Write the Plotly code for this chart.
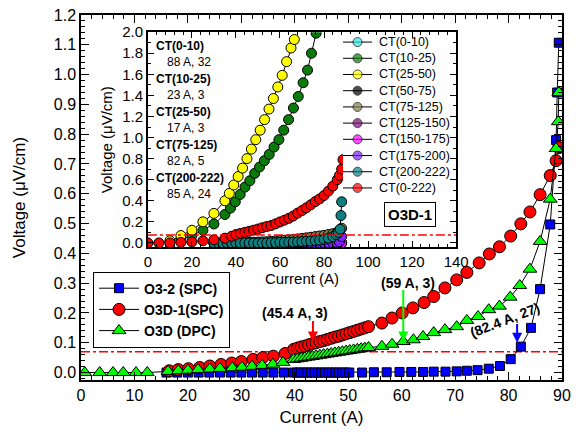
import plotly.graph_objects as go

FONT = "Arial, 'Liberation Sans', Helvetica, sans-serif"

# ---------------- main panel data ----------------
o32_A = [16, 18, 20, 22, 24, 26, 28, 30, 32, 34, 36, 38,
         39.8, 40.45, 41.1, 41.75, 42.4, 43.05, 43.7, 44.35, 45.0, 45.65, 46.3, 46.95,
         47.6, 48.25, 48.9, 49.55, 50.2,
         52.6, 54.8, 57.2, 59.6, 61.8, 64.0, 66.0, 68.2, 70.3, 72.2, 74.2, 76.3, 78.4,
         80.4, 82.3, 84.2, 85.9, 87.8, 88.9, 89.1, 89.4]
o32_V = [0] * 29 + [0.0, 0.001, 0.001, 0.002, 0.002, 0.002, 0.003, 0.003, 0.004, 0.006,
                    0.008, 0.013, 0.022, 0.045, 0.087, 0.15, 0.28, 0.497, 0.78, 0.94, 1.107]

o3d1_A = [16.5, 18.2, 20.1, 22.2, 24.1, 26.2, 28.2, 30.0, 32.2, 34.0, 36.0, 38.2,
          39.8, 40.5, 41.2, 41.9, 42.6, 43.3, 44.0, 44.7, 45.4, 46.1, 46.8, 47.5, 48.2,
          48.9, 49.6, 50.3, 51.0, 51.7, 52.4, 53.1, 53.8,
          56.3, 58.2, 60.1, 62.1, 64.2, 66.0, 68.1, 70.3, 72.2, 74.5, 76.4, 78.3, 80.4,
          82.3, 84.0, 85.9, 87.8, 88.9, 89.4]
o3d1_V = [0.006, 0.010, 0.013, 0.017, 0.022, 0.027, 0.032, 0.037, 0.044, 0.050, 0.055, 0.064,
          0.078, 0.082, 0.086, 0.089, 0.093, 0.097, 0.100, 0.104, 0.107, 0.111, 0.115, 0.119,
          0.122, 0.126, 0.130, 0.134, 0.138, 0.142, 0.146, 0.150, 0.154,
          0.166, 0.183, 0.200, 0.217, 0.235, 0.255, 0.284, 0.311, 0.336, 0.368, 0.398, 0.422,
          0.458, 0.499, 0.539, 0.597, 0.661, 0.711, 0.755]

o3d_A = [0.7, 3.5, 6.0, 7.9, 10.3, 12.4,
         16.3, 18.2, 20.0, 21.9, 24.1, 26.0, 28.3, 30.1, 32.0, 33.9, 35.9, 37.8,
         39.8, 40.5, 41.2, 41.9, 42.6, 43.3, 44.0, 44.7, 45.4, 46.1, 46.8, 47.5, 48.2,
         48.9, 49.6, 50.3, 51.0, 51.7, 52.4, 53.1, 53.8,
         56.3, 58.2, 60.3, 62.2, 64.0, 66.0, 68.1, 70.3, 72.2, 74.3, 76.3, 78.3, 80.3,
         82.1, 84.0, 85.9, 87.8, 88.9, 89.3, 89.4]
o3d_V = [0, 0, 0, 0, 0, 0,
         0.004, 0.006, 0.008, 0.010, 0.012, 0.014, 0.016, 0.018, 0.021, 0.024, 0.028, 0.034,
         0.044, 0.046, 0.048, 0.050, 0.052, 0.054, 0.056, 0.058, 0.060, 0.062, 0.064, 0.066,
         0.068, 0.070, 0.072, 0.074, 0.076, 0.078, 0.080, 0.082, 0.084,
         0.088, 0.095, 0.104, 0.110, 0.121, 0.134, 0.144, 0.154, 0.175, 0.188, 0.211, 0.223,
         0.253, 0.292, 0.347, 0.440, 0.582, 0.752, 0.842, 0.940]

THRESH_MAIN = 0.07

# ---------------- inset data ----------------
ct_0_10_A = [30, 34, 38, 42, 46, 50, 54, 58, 62, 66, 70, 74, 78, 82, 86]
ct_0_10_V = [0] * 15
ct_10_25_A = [15, 20, 25, 30, 35, 37.5, 39.7, 41.9, 44.1, 46.3, 48.5, 50.7, 52.9, 55.1,
              57.3, 59.5, 61.7, 63.9, 66.1, 68.3, 70.5, 72.5, 74.3, 76.4]
ct_10_25_V = [0.03, 0.07, 0.12, 0.18, 0.27, 0.33, 0.39, 0.46, 0.53, 0.59, 0.66, 0.72, 0.78,
              0.84, 0.91, 0.98, 1.07, 1.17, 1.28, 1.39, 1.52, 1.64, 1.80, 1.99]
ct_25_50_A = [10, 15, 20, 25, 30, 35, 37, 39, 41, 43, 45, 47, 49, 51, 53, 55, 57, 59, 61,
              63, 65, 66.5]
ct_25_50_V = [0.02, 0.07, 0.12, 0.20, 0.28, 0.40, 0.47, 0.55, 0.63, 0.71, 0.80, 0.89, 0.98,
              1.07, 1.17, 1.27, 1.37, 1.48, 1.59, 1.72, 1.85, 1.93]
ct_50_75_A = [30, 36, 42, 48, 54, 60, 66, 72, 78, 84]
ct_50_75_V = [0] * 10
ct_75_125_A = [40, 42, 44, 46, 48, 50, 52, 54, 56, 58, 60, 62, 64, 66, 68, 70, 72, 74, 76,
               78, 80, 82, 84, 86, 87, 88]
ct_75_125_V = [0.0, 0.0, 0.002, 0.004, 0.006, 0.008, 0.010, 0.012, 0.015, 0.018, 0.021,
               0.025, 0.029, 0.033, 0.038, 0.043, 0.048, 0.054, 0.060, 0.066, 0.072, 0.080,
               0.088, 0.100, 0.120, 0.140]
ct_125_150_A = [60, 66, 72, 78, 84, 88]
ct_125_150_V = [0] * 6
ct_150_175_A = [60, 66, 72, 78, 84, 88]
ct_150_175_V = [0] * 6
ct_175_200_A = [70, 72, 74, 76, 78, 80, 82, 84, 86, 87, 88]
ct_175_200_V = [0, 0, 0, 0, 0, 0, 0, 0, 0, 0.01, 0.06]
ct_200_222_A = [30, 32, 34, 36, 38, 40, 42, 44, 46, 48, 50, 52, 54, 56, 58, 60, 62, 64, 66,
                68, 70, 72, 74, 76, 78, 80, 82, 84, 85.5, 86.5, 87.3, 87.7, 88.0]
ct_200_222_V = [0, 0, 0, 0, 0, 0, 0, 0, 0, 0, 0, 0, 0, 0.002, 0.003, 0.004, 0.005, 0.006,
                0.008, 0.010, 0.012, 0.015, 0.018, 0.022, 0.027, 0.033, 0.045, 0.060, 0.080,
                0.100, 0.130, 0.260, 0.390]
ct_0_222_A = [0, 5, 10, 15, 20, 25, 30, 35, 38, 40, 42, 44, 46, 48, 50, 52, 54, 56, 58, 60,
              62, 64, 66, 68, 70, 72, 74, 76, 78, 80, 82, 84, 86, 87, 88, 88.6]
ct_0_222_V = [0, 0, 0, 0.005, 0.01, 0.02, 0.03, 0.045, 0.063, 0.079, 0.090, 0.100, 0.110,
              0.121, 0.132, 0.144, 0.155, 0.165, 0.181, 0.199, 0.216, 0.233, 0.255, 0.283,
              0.307, 0.333, 0.362, 0.392, 0.418, 0.450, 0.492, 0.539, 0.600, 0.640, 0.700,
              0.790]
THRESH_INSET = 0.075

inset_names = ["CT(0-10)", "CT(10-25)", "CT(25-50)", "CT(50-75)", "CT(75-125)",
               "CT(125-150)", "CT(150-175)", "CT(175-200)", "CT(200-222)", "CT(0-222)"]
inset_x = [ct_0_10_A, ct_10_25_A, ct_25_50_A, ct_50_75_A, ct_75_125_A, ct_125_150_A,
           ct_150_175_A, ct_175_200_A, ct_200_222_A, ct_0_222_A]
inset_y = [ct_0_10_V, ct_10_25_V, ct_25_50_V, ct_50_75_V, ct_75_125_V, ct_125_150_V,
           ct_150_175_V, ct_175_200_V, ct_200_222_V, ct_0_222_V]
inset_colors = ["#33E6E6", "#0A7A0A", "#FFFF00", "#000000", "#80804A", "#7A0A7A",
                "#FF00FF", "#8020FF", "#0A7F7F", "#FF0000"]

inset_notes = [("CT(0-10)", "88 A, 32"), ("CT(10-25)", "23 A, 3"), ("CT(25-50)", "17 A, 3"),
               ("CT(75-125)", "82 A, 5"), ("CT(200-222)", "85 A, 24")]

fig = go.Figure()

# main traces
fig.add_trace(go.Scatter(x=o32_A, y=o32_V, name="O3-2 (SPC)", mode="lines+markers",
                         line=dict(color="black", width=1),
                         marker=dict(symbol="square", size=9, color="#0000FF",
                                     line=dict(color="black", width=1)),
                         xaxis="x", yaxis="y"))
fig.add_trace(go.Scatter(x=o3d1_A, y=o3d1_V, name="O3D-1(SPC)", mode="lines+markers",
                         line=dict(color="black", width=1),
                         marker=dict(symbol="circle", size=12, color="#FF0000",
                                     line=dict(color="black", width=1)),
                         xaxis="x", yaxis="y"))
fig.add_trace(go.Scatter(x=o3d_A, y=o3d_V, name="O3D (DPC)", mode="lines+markers",
                         line=dict(color="black", width=1),
                         marker=dict(symbol="triangle-up", size=12, color="#00FF00",
                                     line=dict(color="black", width=1)),
                         xaxis="x", yaxis="y"))

# inset traces
for name, xs, ys, col in zip(inset_names, inset_x, inset_y, inset_colors):
    fig.add_trace(go.Scatter(x=xs, y=ys, name=name, mode="lines+markers", showlegend=False,
                             line=dict(color="black", width=1),
                             marker=dict(symbol="circle", size=10, color=col,
                                         line=dict(color="black", width=1)),
                             xaxis="x2", yaxis="y2"))

# inset legend drawn on a helper axis (row index = legend entry)
for i, (name, col) in enumerate(zip(inset_names, inset_colors)):
    fig.add_trace(go.Scatter(x=[0, 0.5, 1], y=[i, i, i], mode="lines+markers",
                             showlegend=False, hoverinfo="skip",
                             line=dict(color="black", width=1),
                             marker=dict(symbol="circle", size=[0, 9, 0], color=col,
                                         line=dict(color="black", width=[0, 1, 0])),
                             xaxis="x3", yaxis="y3"))

# threshold lines
fig.add_shape(type="line", xref="x", yref="y", x0=0, x1=90, y0=THRESH_MAIN, y1=THRESH_MAIN,
              line=dict(color="#FF0000", width=1.5, dash="dashdot"), layer="below")
fig.add_shape(type="line", xref="x2", yref="y2", x0=0, x1=140, y0=THRESH_INSET, y1=THRESH_INSET,
              line=dict(color="#FF0000", width=1.5, dash="dashdot"))

ax_common = dict(showline=True, linecolor="black", linewidth=1.5, mirror="allticks",
                 ticks="inside", tickcolor="black", tickwidth=1.2, showgrid=False,
                 zeroline=False)
hidden_ax = dict(visible=False, showgrid=False, zeroline=False, fixedrange=True)

fig.update_layout(
    width=578, height=434,
    margin=dict(l=81, r=16, t=15, b=54, autoexpand=False),
    paper_bgcolor="white", plot_bgcolor="white",
    font=dict(family=FONT, color="black"),
    xaxis=dict(domain=[0, 1], range=[0, 90], dtick=10, tick0=0, ticklen=8,
               minor=dict(ticks="inside", ticklen=4, dtick=2, tickcolor="black"),
               tickfont=dict(size=16),
               title=dict(text="Current (A)", font=dict(size=17), standoff=8), **ax_common),
    yaxis=dict(domain=[0, 1], range=[-0.025, 1.2], dtick=0.1, tick0=0, ticklen=8,
               tickformat=".1f",
               minor=dict(ticks="inside", ticklen=4, dtick=0.02, tickcolor="black"),
               tickfont=dict(size=16),
               title=dict(text="Voltage (\u03bcV/cm)", font=dict(size=17), standoff=24),
               **ax_common),
    xaxis2=dict(domain=[0.139, 0.780], range=[0, 140], dtick=20, tick0=0, ticklen=6,
                anchor="y2",
                minor=dict(ticks="inside", ticklen=3, dtick=4, tickcolor="black"),
                tickfont=dict(size=15),
                title=dict(text="Current (A)", font=dict(size=15), standoff=0), **ax_common),
    yaxis2=dict(domain=[0.364, 0.953], range=[-0.04, 2.0], dtick=0.2, tick0=0, ticklen=6,
                anchor="x2", tickformat=".1f",
                minor=dict(ticks="inside", ticklen=3, dtick=0.1, tickcolor="black"),
                tickfont=dict(size=15),
                title=dict(text="Voltage (\u03bcV/cm)", font=dict(size=15), standoff=6),
                **ax_common),
    xaxis3=dict(domain=[0.5447, 0.605], range=[0, 1], anchor="y3", **hidden_ax),
    yaxis3=dict(domain=[0.504, 0.948], range=[9.5, -0.5], anchor="x3", **hidden_ax),
    legend=dict(x=0.025, y=0.297, xanchor="left", yanchor="top",
                bordercolor="black", borderwidth=1, bgcolor="white",
                font=dict(size=14, family=FONT, weight="bold"),
                tracegroupgap=0, itemwidth=40),
    showlegend=True,
)

ann = []
# inset legend labels
for i, name in enumerate(inset_names):
    ann.append(dict(x=1, y=i, xref="x3", yref="y3", text=name, showarrow=False,
                    xanchor="left", yanchor="middle", xshift=5,
                    font=dict(size=12.5, family=FONT)))
# inset notes
ypos = 1.87
for head, val in inset_notes:
    ann.append(dict(x=3, y=ypos, xref="x2", yref="y2", text="<b>%s</b>" % head,
                    showarrow=False, xanchor="left", yanchor="middle",
                    font=dict(size=12, family=FONT)))
    ann.append(dict(x=8, y=ypos - 0.152, xref="x2", yref="y2", text=val,
                    showarrow=False, xanchor="left", yanchor="middle",
                    font=dict(size=12, family=FONT)))
    ypos -= 0.3125
ann.append(dict(x=119, y=0.265, xref="x2", yref="y2", text="<b>O3D-1</b>", showarrow=False,
                bordercolor="black", borderwidth=1, borderpad=3, bgcolor="white",
                font=dict(size=15, family=FONT)))

# main annotations
ann += [
    dict(x=40.0, y=0.20, xref="x", yref="y", text="<b>(45.4 A, 3)</b>", showarrow=False,
         font=dict(size=14, family=FONT)),
    dict(x=61.2, y=0.302, xref="x", yref="y", text="<b>(59 A, 3)</b>", showarrow=False,
         font=dict(size=14, family=FONT)),
    dict(x=79.3, y=0.178, xref="x", yref="y", text="<b>(82.4 A, 27)</b>", showarrow=False,
         textangle=-21, font=dict(size=14, family=FONT)),
    dict(x=43.4, y=0.104, ax=43.4, ay=0.178, xref="x", yref="y", axref="x", ayref="y",
         text="", showarrow=True, arrowhead=2, arrowsize=1, arrowwidth=2, arrowcolor="#FF0000"),
    dict(x=60.3, y=0.104, ax=60.3, ay=0.282, xref="x", yref="y", axref="x", ayref="y",
         text="", showarrow=True, arrowhead=2, arrowsize=1, arrowwidth=2, arrowcolor="#00FF00"),
    dict(x=81.6, y=0.10, ax=81.6, ay=0.168, xref="x", yref="y", axref="x", ayref="y",
         text="", showarrow=True, arrowhead=2, arrowsize=1, arrowwidth=2, arrowcolor="#0000FF"),
]
fig.update_layout(annotations=ann)

fig.write_html("out.html")
